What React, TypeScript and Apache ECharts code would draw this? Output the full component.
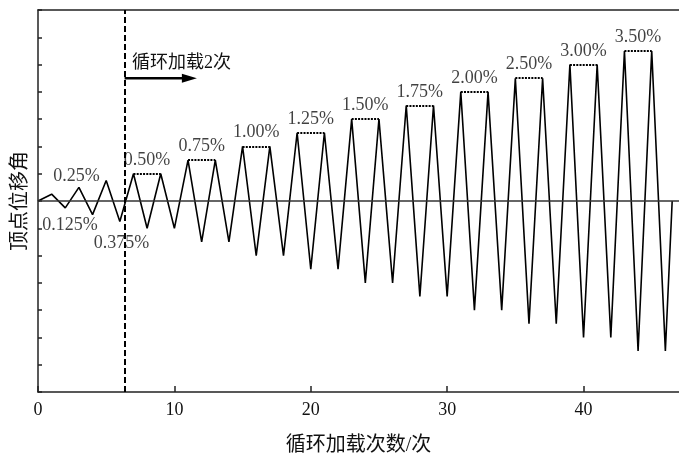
import React, { useEffect, useRef } from 'react';
import * as echarts from 'echarts';

// Loading protocol (schematic units: one y-tick = one unit)
const cycleX = [0, 1, 2, 3, 4, 5, 6, 7, 8, 9, 10, 11, 12, 13, 14, 15, 16, 17, 18, 19, 20, 21, 22, 23, 24, 25, 26, 27, 28, 29, 30, 31, 32, 33, 34, 35, 36, 37, 38, 39, 40, 41, 42, 43, 44, 45, 46, 46.5];
const cycleY = [0, 0.25, -0.25, 0.5, -0.5, 0.75, -0.75,
  1, -1, 1, -1,
  1.5, -1.5, 1.5, -1.5,
  2, -2, 2, -2,
  2.5, -2.5, 2.5, -2.5,
  3, -3, 3, -3,
  3.5, -3.5, 3.5, -3.5,
  4, -4, 4, -4,
  4.5, -4.5, 4.5, -4.5,
  5, -5, 5, -5,
  5.5, -5.5, 5.5, -5.5,
  0];

const levelLabels = ['0.50%', '0.75%', '1.00%', '1.25%', '1.50%', '1.75%', '2.00%', '2.50%', '3.00%', '3.50%'];
const levelStartX = [7, 11, 15, 19, 23, 27, 31, 35, 39, 43];
const levelEndX = [9, 13, 17, 21, 25, 29, 33, 37, 41, 45];
const levelPeak = [1, 1.5, 2, 2.5, 3, 3.5, 4, 4.5, 5, 5.5];

const smallLabels = ['0.125%', '0.25%', '0.375%'];
const smallLabelX = [2.35, 2.82, 6.12];
const smallLabelY = [-0.86, 0.96, -1.52];

const boundaryX = 6.35;
const arrowY = 4.5;
const arrowTipX = 11.65;
const noteText = '循环加载2次';
const noteX = 6.9;
const noteY = 5.1;

const xName = '循环加载次数/次';
const yName = '顶点位移角';

const FONT = '"Liberation Serif", "Noto Sans CJK SC", serif';

export default function App() {
  const ref = useRef<HTMLDivElement>(null);
  useEffect(() => {
    if (!ref.current) return;
    const chart = echarts.init(ref.current, undefined, { renderer: 'svg' });
    const mainData = cycleX.map((x, i) => [x, cycleY[i]]);
    const bracketData = levelStartX.map((s, i) => [
      { coord: [s, levelPeak[i]] },
      { coord: [levelEndX[i], levelPeak[i]] },
    ]);
    const levelLabelData = levelStartX.map((s, i) => [(s + levelEndX[i]) / 2, levelPeak[i], levelLabels[i]]);
    const smallLabelData = smallLabels.map((t, i) => [smallLabelX[i], smallLabelY[i], t]);
    const axisLineStyle = { color: '#222', width: 1.5 };
    chart.setOption({
      animation: false,
      grid: { left: 38, right: 0, top: 10, bottom: 63 },
      xAxis: [
        {
          type: 'value', min: 0, max: 47, interval: 10, position: 'bottom',
          name: xName, nameLocation: 'middle', nameGap: 42,
          nameTextStyle: { fontFamily: FONT, fontSize: 20, color: '#111' },
          axisLine: { show: true, onZero: false, lineStyle: axisLineStyle },
          axisTick: { show: true, inside: true, length: 6, lineStyle: axisLineStyle },
          axisLabel: { fontFamily: FONT, fontSize: 18, color: '#111', margin: 8, showMaxLabel: false },
          splitLine: { show: false },
        },
        {
          type: 'value', min: 0, max: 47, position: 'top',
          axisLine: { show: true, onZero: false, lineStyle: axisLineStyle },
          axisTick: { show: false }, axisLabel: { show: false }, splitLine: { show: false },
        },
      ],
      yAxis: {
        type: 'value', min: -7, max: 7, interval: 1,
        name: yName, nameLocation: 'middle', nameGap: 9, nameRotate: 90,
        nameTextStyle: { fontFamily: FONT, fontSize: 20, color: '#111' },
        axisLine: { show: true, onZero: false, lineStyle: axisLineStyle },
        axisTick: { show: true, inside: true, length: 4, lineStyle: axisLineStyle },
        axisLabel: { show: false },
        splitLine: { show: false },
      },
      series: [
        {
          type: 'line', data: mainData, symbol: 'none', silent: true,
          lineStyle: { color: '#000', width: 1.6 },
          z: 3,
          markLine: {
            silent: true, symbol: 'none', animation: false,
            label: { show: false },
            data: [
              { yAxis: 0, lineStyle: { color: '#333', width: 1.5, type: 'solid' } },
              { xAxis: boundaryX, lineStyle: { color: '#000', width: 2, type: [6, 3] } },
              ...bracketData.map((d) => d.map((p) => ({ ...p, lineStyle: { color: '#000', width: 2, type: [2, 1.2] } }))),
            ],
          },
        },
        {
          type: 'scatter', data: levelLabelData, symbolSize: 0, silent: true,
          label: {
            show: true, position: 'top', distance: 6,
            formatter: (p: any) => p.value[2],
            fontFamily: FONT, fontSize: 18, color: '#111',
          },
        },
        {
          type: 'scatter', data: smallLabelData, symbolSize: 0, silent: true,
          label: {
            show: true, position: 'inside',
            formatter: (p: any) => p.value[2],
            fontFamily: FONT, fontSize: 18, color: '#111',
          },
        },
      ],
    });
    const p0 = chart.convertToPixel({ gridIndex: 0 }, [boundaryX, arrowY]) as number[];
    const p1 = chart.convertToPixel({ gridIndex: 0 }, [arrowTipX, arrowY]) as number[];
    const pn = chart.convertToPixel({ gridIndex: 0 }, [noteX, noteY]) as number[];
    const headLen = 15;
    const headHalf = 4.5;
    chart.setOption({
      graphic: [
        {
          type: 'line', silent: true,
          shape: { x1: p0[0], y1: p0[1], x2: p1[0] - headLen + 1, y2: p1[1] },
          style: { stroke: '#000', lineWidth: 2.5 },
        },
        {
          type: 'polygon', silent: true,
          shape: { points: [[p1[0] - headLen, p1[1] - headHalf], [p1[0], p1[1]], [p1[0] - headLen, p1[1] + headHalf]] },
          style: { fill: '#000' },
        },
        {
          type: 'text', silent: true, x: pn[0], y: pn[1],
          style: { text: noteText, fontFamily: FONT, fontSize: 18, fill: '#111', align: 'left', verticalAlign: 'middle' },
        },
      ],
    });
    return () => chart.dispose();
  }, []);
  return <div ref={ref} style={{ position: 'fixed', left: 0, top: 0, width: 679, height: 459 }} />;
}
